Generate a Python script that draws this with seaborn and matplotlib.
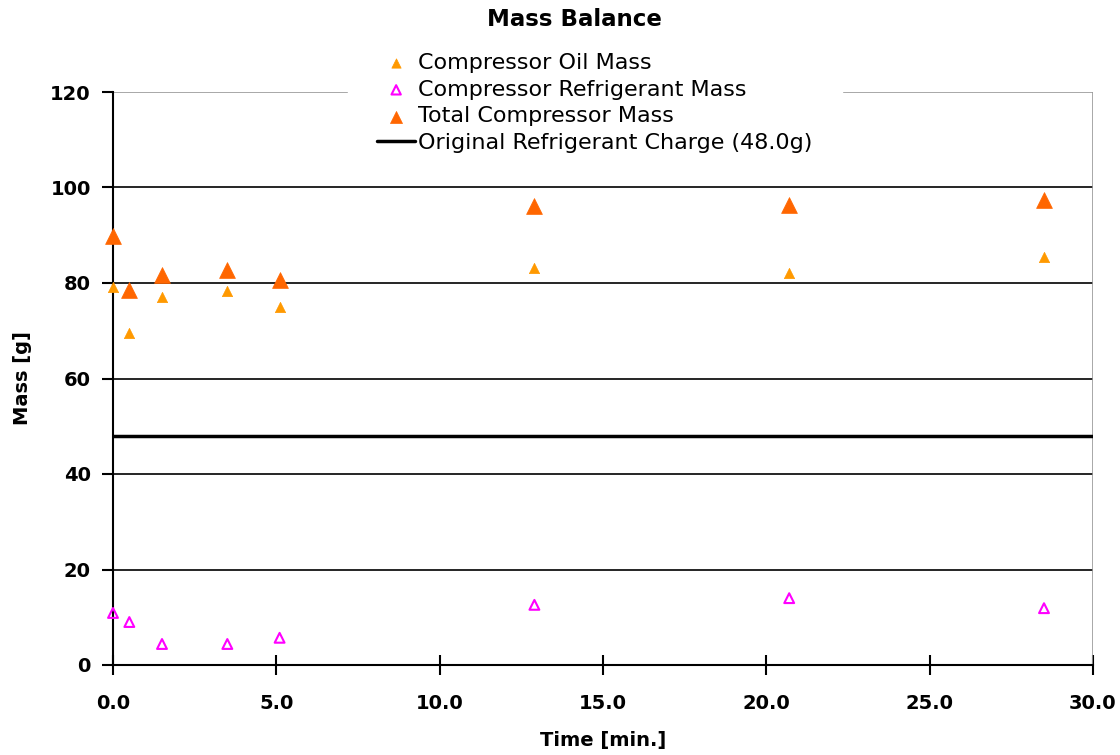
import matplotlib
matplotlib.use("Agg")
import matplotlib.pyplot as plt
import seaborn as sns
import pandas as pd

# Sample times [min.]
time_min = [0.0, 0.5, 1.5, 3.5, 5.1, 12.9, 20.7, 28.5]
# Masses [g]
oil_mass = [79.2, 69.5, 77.1, 78.3, 75.0, 83.1, 82.1, 85.4]
refrigerant_mass = [10.9, 9.0, 4.4, 4.4, 5.7, 12.6, 14.0, 11.9]
total_mass = [89.8, 78.5, 81.7, 82.7, 80.6, 96.1, 96.3, 97.4]
original_charge = 48.0

x_ticks = [0, 5, 10, 15, 20, 25, 30]
x_tick_labels = ["0.0", "5.0", "10.0", "15.0", "20.0", "25.0", "30.0"]
y_ticks = [0, 20, 40, 60, 80, 100, 120]

sns.set_style("white")
plt.rcParams["font.family"] = ["DejaVu Sans"]
plt.rcParams["text.color"] = "black"
plt.rcParams["axes.labelcolor"] = "black"
plt.rcParams["xtick.color"] = "black"
plt.rcParams["ytick.color"] = "black"

df = pd.DataFrame({"t": time_min, "oil": oil_mass,
                   "ref": refrigerant_mass, "tot": total_mass})

fig = plt.figure(figsize=(11.2, 7.55), dpi=100)
ax = fig.add_axes([113 / 1120, 1 - 665 / 755, (1093 - 113) / 1120, (665 - 92) / 755])

# Horizontal grid lines
for yv in y_ticks[1:-1]:
    ax.axhline(yv, color="black", lw=1.2, zorder=1)
ax.axhline(120, color="#999999", lw=1.2, zorder=1)

sns.scatterplot(data=df, x="t", y="oil", ax=ax, marker="^", s=55,
                color="#FF9900", edgecolor="#FF9900", linewidth=0.5,
                label="Compressor Oil Mass", zorder=3, clip_on=False)
sns.scatterplot(data=df, x="t", y="ref", ax=ax, marker="^", s=50,
                facecolor="none", edgecolor="#FF00FF", linewidth=1.5,
                label="Compressor Refrigerant Mass", zorder=3, clip_on=False)
sns.scatterplot(data=df, x="t", y="tot", ax=ax, marker="^", s=130,
                color="#FF6600", edgecolor="#FF6600", linewidth=0.5,
                label="Total Compressor Mass", zorder=3, clip_on=False)
ax.axhline(original_charge, color="black", lw=2.5, zorder=2,
           label="Original Refrigerant Charge (48.0g)")

ax.set_xlim(0, 30)
ax.set_ylim(0, 120)
ax.set_xticks(x_ticks)
ax.set_xticklabels(x_tick_labels)
ax.set_yticks(y_ticks)

for side in ["top", "right"]:
    ax.spines[side].set_visible(False)
ax.spines["left"].set_color("black")
ax.spines["bottom"].set_color("black")
ax.spines["left"].set_linewidth(1.5)
ax.spines["bottom"].set_linewidth(1.5)
ax.axvline(30, color="#999999", lw=1.2, zorder=1)

ax.tick_params(axis="x", direction="inout", length=14, width=1.5,
               bottom=True, pad=14, labelsize=14)
ax.tick_params(axis="y", direction="out", length=8, width=1.5,
               left=True, pad=8, labelsize=14)
for lbl in ax.get_xticklabels() + ax.get_yticklabels():
    lbl.set_fontweight("bold")

ax.set_xlabel("Time [min.]", fontsize=14, fontweight="bold", labelpad=13)
ax.set_ylabel("Mass [g]", fontsize=14, fontweight="bold", labelpad=13)
fig.suptitle("Mass Balance", x=574 / 1120, y=1 - 20 / 755, fontsize=16.5,
             fontweight="bold", va="center")

handles, labels = ax.get_legend_handles_labels()
leg = ax.legend(handles, labels, loc="center",
                bbox_to_anchor=(595 / 1120, 1 - 103 / 755),
                bbox_transform=fig.transFigure, frameon=True,
                prop={"family": "DejaVu Sans", "size": 16},
                handlelength=1.7, handletextpad=0.15,
                labelspacing=0.3, borderpad=0.2, borderaxespad=0)
frame = leg.get_frame()
frame.set_edgecolor("white")
frame.set_facecolor("white")
frame.set_alpha(1)
frame.set_boxstyle("square", pad=1.1)
leg.set_zorder(5)
marker_sizes = [45, 45, 75]
for h, sz in zip(leg.legend_handles[:3], marker_sizes):
    h.set_sizes([sz])
for t in leg.get_texts():
    t.set_color("black")

fig.savefig("out.png", dpi=100, facecolor="white")
